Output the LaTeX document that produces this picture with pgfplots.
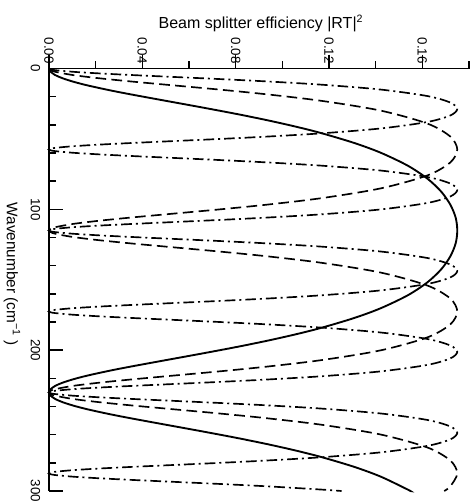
\documentclass[border=0pt]{standalone}
\usepackage{fontspec}
\setmainfont{Liberation Sans}
\usepackage{pgfplots}
\pgfplotsset{compat=1.18}

\begin{document}
\begin{tikzpicture}
\path[use as bounding box] (-194.25pt,-166.7pt) rectangle (162.75pt,209.85pt);
\begin{axis}[
  at={(0,0)}, anchor=center,
  x={(1750pt,0pt)}, y={(0pt,-1.05633pt)},
  xmin=0, xmax=0.18, ymin=0, ymax=300,
  axis line style={draw=none},
  clip=false,
  xtick align=outside, ytick align=inside,
  xtick pos=left, xticklabel pos=right,
  ytick pos=left, yticklabel pos=left,
  tick style={black, line width=1.1pt},
  major tick length=10.5pt, minor tick length=5.5pt,
  xtick={0,0.04,0.08,0.12,0.16},
  minor xtick={0.02,0.06,0.10,0.14,0.18},
  ytick={0,100,200,300},
  minor ytick={20,40,60,80,120,140,160,180,220,240,260,280},
  xticklabel style={font=\fontsize{10}{12}\selectfont, rotate=-90, anchor=east,
    /pgf/number format/fixed, /pgf/number format/fixed zerofill,
    /pgf/number format/precision=2},
  xticklabel shift=-10.5pt,
  yticklabel style={font=\fontsize{10}{12}\selectfont, rotate=-90, anchor=north},
  yticklabel shift=3pt,
  /pgf/number format/assume math mode=true,
]

% the two axis spines that the original keeps
\draw[black, line width=1.2pt] (axis cs:0,0) -- (axis cs:0.18,0);
\draw[black, line width=1.2pt] (axis cs:0,0) -- (axis cs:0,300);

% solid: thickest film
\addplot[black, line width=1.4pt, smooth] coordinates {
(0,0) (0.0002,1.15) (0.0007,2.3) (0.0026,4.6) (0.0058,6.9) (0.0101,9.2) (0.0153,11.5)
(0.0214,13.8) (0.0280,16.1) (0.0352,18.4) (0.0427,20.7) (0.0503,23) (0.0655,27.6)
(0.0802,32.2) (0.0938,36.8) (0.1061,41.4) (0.1170,46) (0.1309,52.9) (0.1422,59.8)
(0.1538,69) (0.1622,78.2) (0.1681,87.4) (0.1720,96.6) (0.1743,105.8) (0.1750,115)
(0.1743,124.2) (0.1720,133.4) (0.1681,142.6) (0.1622,151.8) (0.1538,161) (0.1422,170.2)
(0.1309,177.1) (0.1170,184) (0.1061,188.6) (0.0938,193.2) (0.0802,197.8) (0.0655,202.4)
(0.0503,207) (0.0427,209.3) (0.0352,211.6) (0.0280,213.9) (0.0214,216.2) (0.0153,218.5)
(0.0101,220.8) (0.0058,223.1) (0.0026,225.4) (0.0007,227.7) (0.0002,228.85) (0,230)
(0.0002,231.15) (0.0007,232.3) (0.0026,234.6) (0.0058,236.9) (0.0101,239.2) (0.0153,241.5)
(0.0214,243.8) (0.0280,246.1) (0.0352,248.4) (0.0427,250.7) (0.0503,253) (0.0655,257.6)
(0.0802,262.2) (0.0938,266.8) (0.1061,271.4) (0.1170,276) (0.1309,282.9) (0.1422,289.8)
(0.1538,299) (0.1548,300)
};

% dashed
\addplot[black, line width=1.25pt, smooth, dash pattern=on 8pt off 4pt] coordinates {
(0,0) (0.0007,1.15) (0.0026,2.3) (0.0101,4.6) (0.0214,6.9) (0.0352,9.2) (0.0503,11.5)
(0.0730,14.95) (0.0938,18.4) (0.1170,23) (0.1422,29.9) (0.1622,39.1) (0.1720,48.3)
(0.1750,57.5) (0.1720,66.7) (0.1622,75.9) (0.1422,85.1) (0.1170,92) (0.0938,96.6)
(0.0730,100.05) (0.0503,103.5) (0.0352,105.8) (0.0214,108.1) (0.0101,110.4) (0.0026,112.7)
(0.0007,113.85) (0,115)
(0.0007,116.15) (0.0026,117.3) (0.0101,119.6) (0.0214,121.9) (0.0352,124.2) (0.0503,126.5)
(0.0730,129.95) (0.0938,133.4) (0.1170,138) (0.1422,144.9) (0.1622,154.1) (0.1720,163.3)
(0.1750,172.5) (0.1720,181.7) (0.1622,190.9) (0.1422,200.1) (0.1170,207) (0.0938,211.6)
(0.0730,215.05) (0.0503,218.5) (0.0352,220.8) (0.0214,223.1) (0.0101,225.4) (0.0026,227.7)
(0.0007,228.85) (0,230)
(0.0007,231.15) (0.0026,232.3) (0.0101,234.6) (0.0214,236.9) (0.0352,239.2) (0.0503,241.5)
(0.0730,244.95) (0.0938,248.4) (0.1170,253) (0.1422,259.9) (0.1622,269.1) (0.1720,278.3)
(0.1750,287.5) (0.1720,296.7) (0.1694,300)
};

% dash-dot: thinnest film
\addplot[black, line width=1.25pt, smooth, dash pattern=on 8pt off 3pt on 1.5pt off 3pt] coordinates {
(0,0) (0.0007,0.58) (0.0026,1.15) (0.0101,2.3) (0.0214,3.45) (0.0352,4.6) (0.0503,5.75)
(0.0730,7.48) (0.0938,9.2) (0.1170,11.5) (0.1422,14.95) (0.1622,19.55) (0.1720,24.15)
(0.1750,28.75) (0.1720,33.35) (0.1622,37.95) (0.1422,42.55) (0.1170,46) (0.0938,48.3)
(0.0730,50.03) (0.0503,51.75) (0.0352,52.9) (0.0214,54.05) (0.0101,55.2) (0.0026,56.35)
(0.0007,56.93) (0,57.5)
(0.0007,58.08) (0.0026,58.65) (0.0101,59.8) (0.0214,60.95) (0.0352,62.1) (0.0503,63.25)
(0.0730,64.98) (0.0938,66.7) (0.1170,69) (0.1422,72.45) (0.1622,77.05) (0.1720,81.65)
(0.1750,86.25) (0.1720,90.85) (0.1622,95.45) (0.1422,100.05) (0.1170,103.5) (0.0938,105.8)
(0.0730,107.53) (0.0503,109.25) (0.0352,110.4) (0.0214,111.55) (0.0101,112.7) (0.0026,113.85)
(0.0007,114.43) (0,115)
(0.0007,115.58) (0.0026,116.15) (0.0101,117.3) (0.0214,118.45) (0.0352,119.6) (0.0503,120.75)
(0.0730,122.48) (0.0938,124.2) (0.1170,126.5) (0.1422,129.95) (0.1622,134.55) (0.1720,139.15)
(0.1750,143.75) (0.1720,148.35) (0.1622,152.95) (0.1422,157.55) (0.1170,161) (0.0938,163.3)
(0.0730,165.03) (0.0503,166.75) (0.0352,167.9) (0.0214,169.05) (0.0101,170.2) (0.0026,171.35)
(0.0007,171.93) (0,172.5)
(0.0007,173.08) (0.0026,173.65) (0.0101,174.8) (0.0214,175.95) (0.0352,177.1) (0.0503,178.25)
(0.0730,179.98) (0.0938,181.7) (0.1170,184) (0.1422,187.45) (0.1622,192.05) (0.1720,196.65)
(0.1750,201.25) (0.1720,205.85) (0.1622,210.45) (0.1422,215.05) (0.1170,218.5) (0.0938,220.8)
(0.0730,222.53) (0.0503,224.25) (0.0352,225.4) (0.0214,226.55) (0.0101,227.7) (0.0026,228.85)
(0.0007,229.43) (0,230)
(0.0007,230.58) (0.0026,231.15) (0.0101,232.3) (0.0214,233.45) (0.0352,234.6) (0.0503,235.75)
(0.0730,237.48) (0.0938,239.2) (0.1170,241.5) (0.1422,244.95) (0.1622,249.55) (0.1720,254.15)
(0.1750,258.75) (0.1720,263.35) (0.1622,267.95) (0.1422,272.55) (0.1170,276) (0.0938,278.3)
(0.0730,280.03) (0.0503,281.75) (0.0352,282.9) (0.0214,284.05) (0.0101,285.2) (0.0026,286.35)
(0.0007,286.93) (0,287.5)
(0.0007,288.08) (0.0026,288.65) (0.0101,289.8) (0.0214,290.95) (0.0352,292.1) (0.0503,293.25)
(0.0730,294.98) (0.0938,296.7) (0.1170,299) (0.1254,300)
};

\end{axis}
\node[anchor=base, font=\fontsize{12}{14}\selectfont] at (1.5pt,188.6pt)
  {Beam splitter efficiency |RT|\textsuperscript{2}};
\node[anchor=base, rotate=-90, font=\fontsize{11.5}{14}\selectfont] at (-189pt,4.3pt)
  {Wavenumber (cm\textsuperscript{−1} )};
\end{tikzpicture}
\end{document}
